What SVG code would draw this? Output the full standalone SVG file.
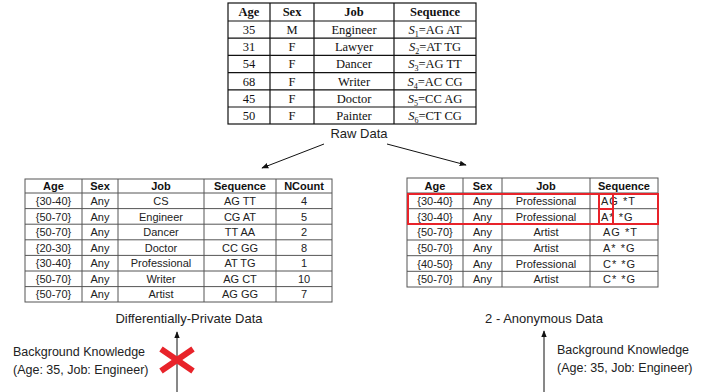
<svg xmlns="http://www.w3.org/2000/svg" width="701" height="392" viewBox="0 0 701 392">
  <defs>
    <style>
      .raw { font-family: "Liberation Serif", "Times New Roman", serif; font-size: 12.5px; fill: #111; text-anchor: middle; }
      .raw-h { font-weight: bold; }
      .tab { font-family: "Liberation Sans", Arial, sans-serif; font-size: 11px; fill: #222; text-anchor: middle; }
      .tab-h { font-weight: bold; fill: #111; }
      .seq { text-anchor: start; letter-spacing: 1px; }
      .grid-raw { stroke: #111; stroke-width: 1.2; fill: none; }
      .grid { stroke: #555; stroke-width: 1; fill: none; }
      .label { font-family: "Liberation Sans", Arial, sans-serif; font-size: 12.5px; fill: #222; }
      .caption { font-family: "Liberation Sans", Arial, sans-serif; font-size: 13px; fill: #222; text-anchor: middle; }
      .conn { stroke: #111; stroke-width: 1; fill: none; }
      .hl { stroke: #e8232a; stroke-width: 2; fill: none; }
    </style>
    <marker id="arrow" viewBox="0 0 10 10" refX="9" refY="5" markerWidth="7" markerHeight="7" orient="auto-start-reverse">
      <path d="M0,1 L10,5 L0,9 z" fill="#111"/>
    </marker>
  </defs>

  <!-- Raw data table -->
  <g id="raw-data">
    <rect class="grid-raw" x="228" y="3" width="248" height="121"/>
    <path class="grid-raw" d="M228,21H476 M228,38.2H476 M228,55.4H476 M228,72.6H476 M228,89.8H476 M228,107H476 M270,3V124 M314,3V124 M394,3V124"/>
    <g class="raw raw-h">
      <text x="249" y="16">Age</text>
      <text x="292" y="16">Sex</text>
      <text x="354" y="16">Job</text>
      <text x="435" y="16">Sequence</text>
    </g>
    <g class="raw">
      <text x="249" y="34">35</text><text x="292" y="34">M</text><text x="354" y="34">Engineer</text>
      <text x="435" y="34"><tspan font-style="italic">S</tspan><tspan font-size="8" dy="3">1</tspan><tspan dy="-3">=AG AT</tspan></text>
      <text x="249" y="51">31</text><text x="292" y="51">F</text><text x="354" y="51">Lawyer</text>
      <text x="435" y="51"><tspan font-style="italic">S</tspan><tspan font-size="8" dy="3">2</tspan><tspan dy="-3">=AT TG</tspan></text>
      <text x="249" y="68">54</text><text x="292" y="68">F</text><text x="354" y="68">Dancer</text>
      <text x="435" y="68"><tspan font-style="italic">S</tspan><tspan font-size="8" dy="3">3</tspan><tspan dy="-3">=AG TT</tspan></text>
      <text x="249" y="85.5">68</text><text x="292" y="85.5">F</text><text x="354" y="85.5">Writer</text>
      <text x="435" y="85.5"><tspan font-style="italic">S</tspan><tspan font-size="8" dy="3">4</tspan><tspan dy="-3">=AC CG</tspan></text>
      <text x="249" y="102.5">45</text><text x="292" y="102.5">F</text><text x="354" y="102.5">Doctor</text>
      <text x="435" y="102.5"><tspan font-style="italic">S</tspan><tspan font-size="8" dy="3">5</tspan><tspan dy="-3">=CC AG</tspan></text>
      <text x="249" y="120">50</text><text x="292" y="120">F</text><text x="354" y="120">Painter</text>
      <text x="435" y="120"><tspan font-style="italic">S</tspan><tspan font-size="8" dy="3">6</tspan><tspan dy="-3">=CT CG</tspan></text>
    </g>
    <text class="caption" x="359" y="138">Raw Data</text>
  </g>

  <!-- Differentially-private table -->
  <g id="dp-data">
    <rect class="grid" x="25" y="179" width="307" height="123"/>
    <path class="grid" d="M25,193H332 M25,208.6H332 M25,224.2H332 M25,239.8H332 M25,255.4H332 M25,271H332 M25,286.6H332 M82,179V302 M118,179V302 M204,179V302 M276,179V302"/>
    <g class="tab tab-h">
      <text x="53.5" y="190">Age</text><text x="100" y="190">Sex</text><text x="161" y="190">Job</text><text x="240" y="190">Sequence</text><text x="304" y="190">NCount</text>
    </g>
    <g class="tab">
      <text x="53.5" y="205">{30-40}</text><text x="100" y="205">Any</text><text x="161" y="205">CS</text><text x="240" y="205">AG TT</text><text x="304" y="205">4</text>
      <text x="53.5" y="220.5">{50-70}</text><text x="100" y="220.5">Any</text><text x="161" y="220.5">Engineer</text><text x="240" y="220.5">CG AT</text><text x="304" y="220.5">5</text>
      <text x="53.5" y="236">{50-70}</text><text x="100" y="236">Any</text><text x="161" y="236">Dancer</text><text x="240" y="236">TT AA</text><text x="304" y="236">2</text>
      <text x="53.5" y="251.5">{20-30}</text><text x="100" y="251.5">Any</text><text x="161" y="251.5">Doctor</text><text x="240" y="251.5">CC GG</text><text x="304" y="251.5">8</text>
      <text x="53.5" y="267">{30-40}</text><text x="100" y="267">Any</text><text x="161" y="267">Professional</text><text x="240" y="267">AT TG</text><text x="304" y="267">1</text>
      <text x="53.5" y="282.5">{50-70}</text><text x="100" y="282.5">Any</text><text x="161" y="282.5">Writer</text><text x="240" y="282.5">AG CT</text><text x="304" y="282.5">10</text>
      <text x="53.5" y="298">{50-70}</text><text x="100" y="298">Any</text><text x="161" y="298">Artist</text><text x="240" y="298">AG GG</text><text x="304" y="298">7</text>
    </g>
    <text class="caption" x="189" y="323">Differentially-Private Data</text>
  </g>

  <!-- 2-anonymous table -->
  <g id="anon-data">
    <rect class="grid" x="407" y="178" width="251" height="109"/>
    <path class="grid" d="M407,193H658 M407,208.7H658 M407,224.3H658 M407,240H658 M407,255.7H658 M407,271.3H658 M463,178V287 M502,178V287 M590,178V287"/>
    <g class="tab tab-h">
      <text x="435" y="189.5">Age</text><text x="482.5" y="189.5">Sex</text><text x="546" y="189.5">Job</text><text x="624" y="189.5">Sequence</text>
    </g>
    <g class="tab">
      <text x="435" y="205">{30-40}</text><text x="482.5" y="205">Any</text><text x="546" y="205">Professional</text><text class="seq" x="601" y="205">AG *T</text>
      <text x="435" y="220.5">{30-40}</text><text x="482.5" y="220.5">Any</text><text x="546" y="220.5">Professional</text><text class="seq" x="601" y="220.5">A* *G</text>
      <text x="435" y="236">{50-70}</text><text x="482.5" y="236">Any</text><text x="546" y="236">Artist</text><text class="seq" x="603" y="236">AG *T</text>
      <text x="435" y="252">{50-70}</text><text x="482.5" y="252">Any</text><text x="546" y="252">Artist</text><text class="seq" x="603" y="252">A* *G</text>
      <text x="435" y="267.5">{40-50}</text><text x="482.5" y="267.5">Any</text><text x="546" y="267.5">Professional</text><text class="seq" x="603" y="267.5">C* *G</text>
      <text x="435" y="283">{50-70}</text><text x="482.5" y="283">Any</text><text x="546" y="283">Artist</text><text class="seq" x="603" y="283">C* *G</text>
    </g>
    <rect class="hl" x="408" y="194" width="250" height="30"/>
    <rect class="hl" x="599" y="194" width="14" height="15"/>
    <rect class="hl" x="599" y="209" width="14" height="15"/>
    <text class="caption" x="544" y="323">2 - Anonymous Data</text>
  </g>

  <!-- Background knowledge annotations -->
  <g id="bk-left">
    <text class="label" x="13" y="356">Background Knowledge</text>
    <text class="label" x="13" y="374">(Age: 35, Job: Engineer)</text>
  </g>
  <g id="bk-right">
    <text class="label" x="557" y="354">Background Knowledge</text>
    <text class="label" x="557" y="372">(Age: 35, Job: Engineer)</text>
  </g>

  <!-- Connectors -->
  <g id="connectors">
    <line class="conn" x1="324" y1="144" x2="262" y2="168" marker-end="url(#arrow)"/>
    <line class="conn" x1="387" y1="144" x2="466" y2="165" marker-end="url(#arrow)"/>
    <line class="conn" x1="177" y1="392" x2="177" y2="332" marker-end="url(#arrow)"/>
    <line class="conn" x1="544" y1="392" x2="544" y2="331" marker-end="url(#arrow)"/>
    <!-- blocked path mark -->
    <path d="M161,349 L193,371 M161,371 L193,349" stroke="#e8232a" stroke-width="6" stroke-linecap="butt"/>
  </g>
</svg>
